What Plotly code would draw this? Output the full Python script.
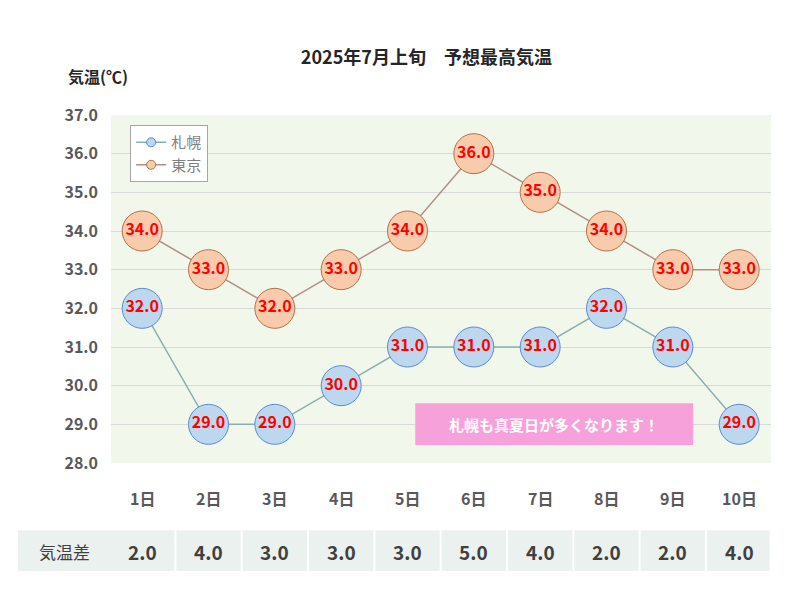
import plotly.graph_objects as go

days = ["1日", "2日", "3日", "4日", "5日", "6日", "7日", "8日", "9日", "10日"]
sapporo = [32.0, 29.0, 29.0, 30.0, 31.0, 31.0, 31.0, 32.0, 31.0, 29.0]
tokyo = [34.0, 33.0, 32.0, 33.0, 34.0, 36.0, 35.0, 34.0, 33.0, 33.0]
diff = [2.0, 4.0, 3.0, 3.0, 3.0, 5.0, 4.0, 2.0, 2.0, 4.0]

FONT = "Noto Sans CJK JP"
xs = list(range(len(days)))

fig = go.Figure()

series = [
    ("札幌", sapporo, "#BDD7EE", "#5B8BD0", "#8AAFAF"),
    ("東京", tokyo, "#F8CBAD", "#B5704A", "#B38F86"),
]
for name, vals, fill, edge, linec in series:
    fig.add_trace(go.Scatter(
        x=xs, y=vals, mode="lines+markers+text", showlegend=False,
        line=dict(color=linec, width=1.5),
        marker=dict(size=40, color=fill, line=dict(color=edge, width=1)),
        text=[f"{v:.1f}" for v in vals], textposition="middle center",
        textfont=dict(color="#FF0000", size=16, family=FONT, weight="bold"),
    ))
for name, vals, fill, edge, linec in series:
    # small markers for the legend only
    fig.add_trace(go.Scatter(
        x=[None], y=[None], mode="lines+markers", name=name,
        line=dict(color=linec, width=1.5),
        marker=dict(size=9, color=fill, line=dict(color=edge, width=1)),
    ))

# x category labels
for i, d in enumerate(days):
    fig.add_annotation(x=i, y=-0.10, xref="x", yref="paper", text=d, showarrow=False,
                       xanchor="center", yanchor="middle",
                       font=dict(size=16, color="#595959", family=FONT, weight="bold"))

# temperature-difference row
fig.add_shape(type="rect", xref="paper", yref="paper", x0=-0.141, x1=0.998,
              y0=-0.31, y1=-0.193, fillcolor="#EBF1EE", line_width=0, layer="below")
for i in range(len(days)):
    fig.add_shape(type="line", xref="x", yref="paper", x0=i - 0.5, x1=i - 0.5,
                  y0=-0.31, y1=-0.193, line=dict(color="white", width=2))
    fig.add_annotation(x=i, y=-0.253, xref="x", yref="paper", text=f"{diff[i]:.1f}",
                       showarrow=False, xanchor="center", yanchor="middle",
                       font=dict(size=19, color="#404040", family=FONT, weight="bold"))
fig.add_annotation(x=-0.07, y=-0.253, xref="paper", yref="paper", text="気温差",
                   showarrow=False, xanchor="center", yanchor="middle",
                   font=dict(size=17, color="#404040", family=FONT))

# message box
fig.add_shape(type="rect", xref="paper", yref="paper", x0=0.461, x1=0.882,
              y0=0.052, y1=0.172, fillcolor="#F7A1DA", line_width=0)
fig.add_annotation(x=0.671, y=0.112, xref="paper", yref="paper", text="札幌も真夏日が多くなります！",
                   showarrow=False, xanchor="center", yanchor="middle",
                   font=dict(size=15, color="white", family=FONT, weight="bold"))

fig.add_annotation(x=-0.02, y=1.112, xref="paper", yref="paper", text="気温(℃)",
                   showarrow=False, xanchor="center", yanchor="middle",
                   font=dict(size=16, color="#262626", family=FONT, weight="bold"))

fig.update_layout(
    width=800, height=600,
    margin=dict(l=103, r=37, t=107, b=145, autoexpand=False),
    title=dict(text="2025年7月上旬　予想最高気温", x=0.523, y=0.917, xanchor="center",
               yanchor="middle",
               font=dict(size=18, color="#262626", family=FONT, weight="bold")),
    paper_bgcolor="white", plot_bgcolor="#F2F7EC",
    font=dict(family=FONT),
    xaxis=dict(range=[-0.47, 9.48], showticklabels=False, showgrid=False, zeroline=False),
    yaxis=dict(range=[28, 37], dtick=1, tickformat=".1f", gridcolor="#D9D9D9",
               zeroline=False, ticks="", ticklabelstandoff=12,
               tickfont=dict(size=16, color="#595959", family=FONT, weight="bold")),
    legend=dict(x=0.029, y=0.971, xanchor="left", yanchor="top", bgcolor="white",
                bordercolor="#A6A6A6", borderwidth=1,
                font=dict(size=15, color="#7F7F7F", family=FONT), tracegroupgap=12),
)

fig.write_html("out.html")
